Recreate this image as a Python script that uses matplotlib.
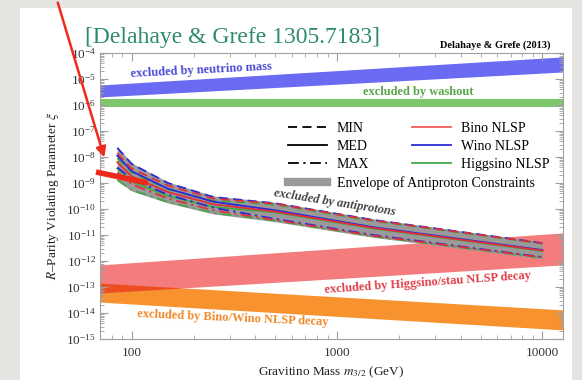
import numpy as np
import matplotlib

matplotlib.use("Agg")
import matplotlib.pyplot as plt
from matplotlib.lines import Line2D
from matplotlib.patches import FancyArrowPatch, Rectangle
from matplotlib.ticker import LogLocator, NullFormatter, FixedLocator, FixedFormatter

plt.rcParams["font.family"] = ["Liberation Serif", "DejaVu Serif"]
plt.rcParams["mathtext.fontset"] = "stix"

# gravitino masses (GeV) at which the antiproton curves are read
MASS = [85, 100, 150, 250, 500, 1500, 10000]
# log10(xi) per NLSP and halo model
BINO_MIN = [-7.85, -8.45, -9.10, -9.60, -9.80, -10.44, -11.32]
BINO_MED = [-8.20, -8.75, -9.35, -9.82, -10.10, -10.73, -11.60]
BINO_MAX = [-8.60, -9.05, -9.60, -10.05, -10.42, -11.03, -11.86]
WINO_MIN = [-7.65, -8.27, -9.00, -9.54, -9.78, -10.42, -11.31]
WINO_MED = [-7.95, -8.55, -9.22, -9.72, -10.05, -10.70, -11.58]
WINO_MAX = [-8.40, -8.85, -9.45, -9.95, -10.38, -11.00, -11.85]
HIGG_MIN = [-8.05, -8.60, -9.25, -9.68, -9.83, -10.46, -11.33]
HIGG_MED = [-8.45, -8.95, -9.50, -9.92, -10.13, -10.75, -11.62]
HIGG_MAX = [-8.88, -9.27, -9.73, -10.15, -10.45, -11.05, -11.88]

# exclusion bands, log10(xi) at the left and right edge of the plot
BAND_MASS = [70, 12600]
NU_TOP = [-5.23, -4.15]
NU_BOT = [-5.69, -4.73]
WASH_TOP = [-5.77, -5.77]
WASH_BOT = [-6.06, -6.06]
HIGGS_TOP = [-12.15, -10.92]
HIGGS_BOT = [-13.23, -12.15]
BW_TOP = [-12.85, -13.88]
BW_BOT = [-13.58, -14.65]

X_TICKS = [100, 1000, 10000]
X_LABELS = ["100", "1000", "10000"]

RED = "#e0303a"
BLUE = "#2a2ad8"
GREEN = "#45a845"


def p(v):
    return np.power(10.0, np.asarray(v, dtype=float))


fig = plt.figure(figsize=(5.82, 3.80), dpi=100)
fig.patch.set_facecolor("#e6e4e0")
fig.add_artist(Rectangle((20 / 582, 0), 552 / 582, 1 - 8 / 380,
                         transform=fig.transFigure, facecolor="white",
                         edgecolor="none", zorder=0))

ax = fig.add_axes([100 / 582, 1 - 339 / 380, 463 / 582, 286 / 380])
ax.set_facecolor("white")
ax.set_xscale("log")
ax.set_yscale("log")
ax.set_xlim(70, 12600)
ax.set_ylim(1e-15, 1e-4)

bm = np.array(BAND_MASS, dtype=float)
ax.fill_between(bm, p(NU_BOT), p(NU_TOP), color="#6a6af2", lw=0, zorder=1)
ax.fill_between(bm, p(WASH_BOT), p(WASH_TOP), color="#7dc66b", lw=0, zorder=1)
ax.fill_between(bm, p(BW_BOT), p(BW_TOP), color="#f7922e", lw=0, zorder=1)
ax.fill_between(bm, p(HIGGS_BOT), p(HIGGS_TOP), color="#f47c7c", lw=0, zorder=1)
# overlap of the two NLSP decay bands
mm = np.logspace(np.log10(bm[0]), np.log10(bm[1]), 200)
lx = np.log10(mm)
lb = np.log10(bm)
ov_top = np.minimum(np.interp(lx, lb, HIGGS_TOP), np.interp(lx, lb, BW_TOP))
ov_bot = np.maximum(np.interp(lx, lb, HIGGS_BOT), np.interp(lx, lb, BW_BOT))
ax.fill_between(mm, p(ov_bot), p(ov_top), where=ov_top > ov_bot,
                color="#ec4e22", lw=0, zorder=1.5)

# antiproton envelope and curves
curves = [
    (BINO_MIN, RED, "MIN"), (BINO_MED, RED, "MED"), (BINO_MAX, RED, "MAX"),
    (WINO_MIN, BLUE, "MIN"), (WINO_MED, BLUE, "MED"), (WINO_MAX, BLUE, "MAX"),
    (HIGG_MIN, GREEN, "MIN"), (HIGG_MED, GREEN, "MED"), (HIGG_MAX, GREEN, "MAX"),
]
allv = np.array([c[0] for c in curves])
mlog = np.log10(MASS)
mf = np.logspace(mlog[0], mlog[-1], 150)
env_top = np.interp(np.log10(mf), mlog, allv.max(axis=0)) + 0.04
env_bot = np.interp(np.log10(mf), mlog, allv.min(axis=0)) - 0.04
ax.fill_between(mf, p(env_bot), p(env_top), color="#9a9a9a", lw=0, zorder=2)

STYLES = {"MIN": (0, (5, 3)), "MED": "-", "MAX": (0, (6, 2.5, 1.2, 2.5))}
for vals, col, kind in [c for c in curves if c[1] == GREEN] + \
        [c for c in curves if c[1] == BLUE] + [c for c in curves if c[1] == RED]:
    ax.plot(MASS, p(vals), color=col, ls=STYLES[kind], lw=1.3, zorder=3)

# band labels
bold = dict(fontweight="bold", fontsize=9, ha="center", va="center", zorder=5)
ax.text(219, 10**-4.65, "excluded by neutrino mass", color="#4a4ad8",
        rotation=3, **bold)
ax.text(2480, 10**-5.5, "excluded by washout", color="#5aa54a", **bold)
ax.text(977, 10**-9.77, "excluded by antiprotons", color="#444444",
        rotation=-9, style="italic", **bold)
ax.text(2780, 10**-12.85, "excluded by Higgsino/stau NLSP decay",
        color="#e0404a", rotation=4, **bold)
ax.text(311, 10**-14.19, "excluded by Bino/Wino NLSP decay", color="#f08a2a",
        rotation=-2.5, **bold)

# legends
leg_kw = dict(loc="upper left", frameon=False, fontsize=10, handlelength=2.8,
              handletextpad=0.7, labelspacing=0.38, borderpad=0,
              borderaxespad=0)
h1 = [Line2D([], [], color="black", ls=STYLES["MIN"], lw=1.3),
      Line2D([], [], color="black", ls=STYLES["MED"], lw=1.3),
      Line2D([], [], color="black", ls=STYLES["MAX"], lw=1.3),
      Line2D([], [], color="#9a9a9a", lw=6)]
leg1 = ax.legend(h1, ["MIN", "MED", "MAX", "Envelope of Antiproton Constraints"],
                 bbox_to_anchor=(0.406, 0.76), **leg_kw)
ax.add_artist(leg1)
h2 = [Line2D([], [], color=c, lw=1.3) for c in ("#f05a5a", BLUE, GREEN)]
ax.legend(h2, ["Bino NLSP", "Wino NLSP", "Higgsino NLSP"],
          bbox_to_anchor=(0.674, 0.76), **leg_kw)

# axes styling
for s in ax.spines.values():
    s.set_color("#a0a0a0")
    s.set_linewidth(0.8)
ax.xaxis.set_major_locator(FixedLocator(X_TICKS))
ax.xaxis.set_major_formatter(FixedFormatter(X_LABELS))
ax.xaxis.set_minor_locator(LogLocator(base=10, subs=range(2, 10), numticks=50))
ax.xaxis.set_minor_formatter(NullFormatter())
ax.yaxis.set_major_locator(LogLocator(base=10, numticks=30))
ax.yaxis.set_minor_locator(LogLocator(base=10, subs=range(2, 10), numticks=100))
ax.yaxis.set_minor_formatter(NullFormatter())
ax.tick_params(which="both", direction="in", top=True, right=True,
               color="#a0a0a0", labelsize=9.5, labelcolor="#333333")
ax.tick_params(which="major", length=6, width=0.8)
ax.tick_params(which="minor", length=3, width=0.6)
ax.tick_params(axis="x", pad=6)
ax.tick_params(axis="y", pad=3)

ax.set_xlabel(r"Gravitino Mass $m_{3/2}$ (GeV)", fontsize=9.5, labelpad=4,
              color="#222222")
ax.set_ylabel(r"$R$–Parity Violating Parameter $\xi$", fontsize=9.5,
              labelpad=4, color="#222222")

ax.text(0.972, 1.028, "Delahaye & Grefe (2013)", transform=ax.transAxes,
        ha="right", va="center", fontsize=7.5, fontweight="bold")
fig.text(85 / 582, 1 - 43 / 380, "[Delahaye & Grefe 1305.7183]",
         color="#2e8b6e", fontsize=17, ha="left", va="baseline")

# slide annotation arrows
fig.add_artist(FancyArrowPatch((57 / 582, 1.0), (105 / 582, 1 - 160 / 380),
                               transform=fig.transFigure, color="#ee2a1a",
                               arrowstyle="-|>,head_length=6,head_width=3",
                               lw=1.8, zorder=10))
fig.add_artist(Line2D([96 / 582, 148 / 582], [1 - 172 / 380, 1 - 183 / 380],
                      transform=fig.transFigure, color="#ee2a1a", lw=4,
                      solid_capstyle="butt", zorder=10))

fig.savefig("out.png", dpi=100, facecolor=fig.get_facecolor())
